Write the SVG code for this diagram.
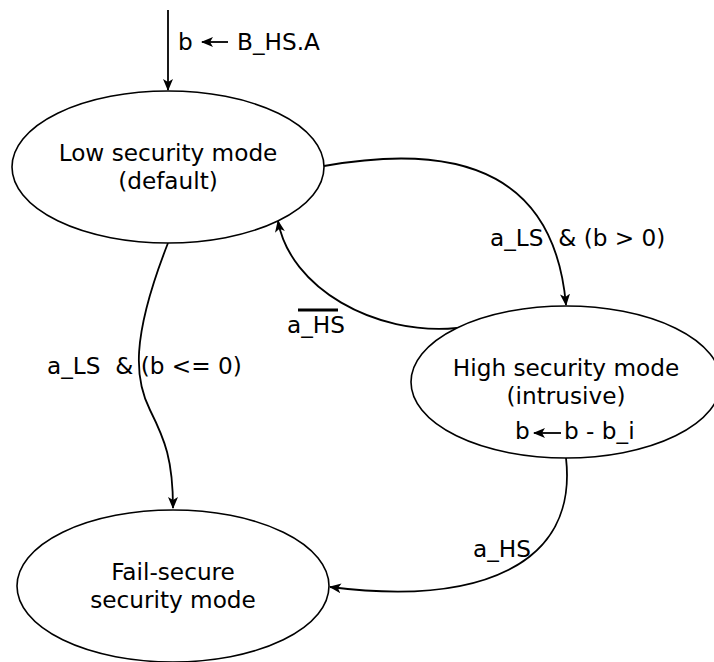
<svg xmlns="http://www.w3.org/2000/svg" width="714" height="662" viewBox="0 0 714 662">
  <style>
    text { font-family: "DejaVu Sans", "Liberation Sans", sans-serif; font-size: 23.2px; fill: #000; }
    .state { fill: #fff; stroke: #000; stroke-width: 1.6; }
    .edge { fill: none; stroke: #000; stroke-width: 1.8; }
    .mid { text-anchor: middle; }
  </style>
  <defs>
    <marker id="arrow" viewBox="0 0 12 12" refX="11" refY="6" markerWidth="12" markerHeight="12" markerUnits="userSpaceOnUse" orient="auto">
      <path d="M0,1 L12,6 L0,11 L3,6 Z" fill="#000"/>
    </marker>
  </defs>

  <rect width="714" height="662" fill="#fff"/>

  <g id="connectors">
    <!-- initial transition -->
    <path class="edge" d="M168,10 L168,90" marker-end="url(#arrow)"/>
    <!-- low -> high -->
    <path class="edge" d="M324,166 C470,140 555,180 566,305" marker-end="url(#arrow)"/>
    <!-- high -> low -->
    <path class="edge" d="M457,328 C375,336 290,288 278,221" marker-end="url(#arrow)"/>
    <!-- low -> fail-secure -->
    <path class="edge" d="M168,243 C130,340 135,380 150,410 C165,440 173,460 173,508" marker-end="url(#arrow)"/>
    <!-- high -> fail-secure -->
    <path class="edge" d="M566,458 C578,565 480,606 330,587" marker-end="url(#arrow)"/>
  </g>

  <g id="init-label">
    <text x="178" y="50">b</text>
    <path class="edge" d="M228,42 L202,42" marker-end="url(#arrow)"/>
    <text x="237" y="50">B_HS.A</text>
  </g>

  <g id="low">
    <ellipse class="state" cx="168" cy="167" rx="156" ry="76"/>
    <text class="mid" x="168" y="161">Low security mode</text>
    <text class="mid" x="168" y="189">(default)</text>
  </g>

  <g id="high">
    <ellipse class="state" cx="566" cy="382" rx="155" ry="76"/>
    <text class="mid" x="566" y="376">High security mode</text>
    <text class="mid" x="566" y="404">(intrusive)</text>
    <text x="515" y="439">b</text>
    <path class="edge" d="M561,433 L534,433" marker-end="url(#arrow)"/>
    <text x="564" y="439">b - b_i</text>
  </g>

  <g id="fail">
    <ellipse class="state" cx="173" cy="586" rx="156" ry="76"/>
    <text class="mid" x="173" y="580">Fail-secure</text>
    <text class="mid" x="173" y="608">security mode</text>
  </g>

  <g id="edge-labels">
    <text x="490" y="246" xml:space="preserve">a_LS  &amp; (b &gt; 0)</text>
    <text x="287" y="333">a_HS</text>
    <line x1="298" y1="310" x2="338" y2="310" stroke="#000" stroke-width="3"/>
    <text x="47" y="374" xml:space="preserve">a_LS  &amp; (b &lt;= 0)</text>
    <text x="473" y="557">a_HS</text>
  </g>
</svg>
